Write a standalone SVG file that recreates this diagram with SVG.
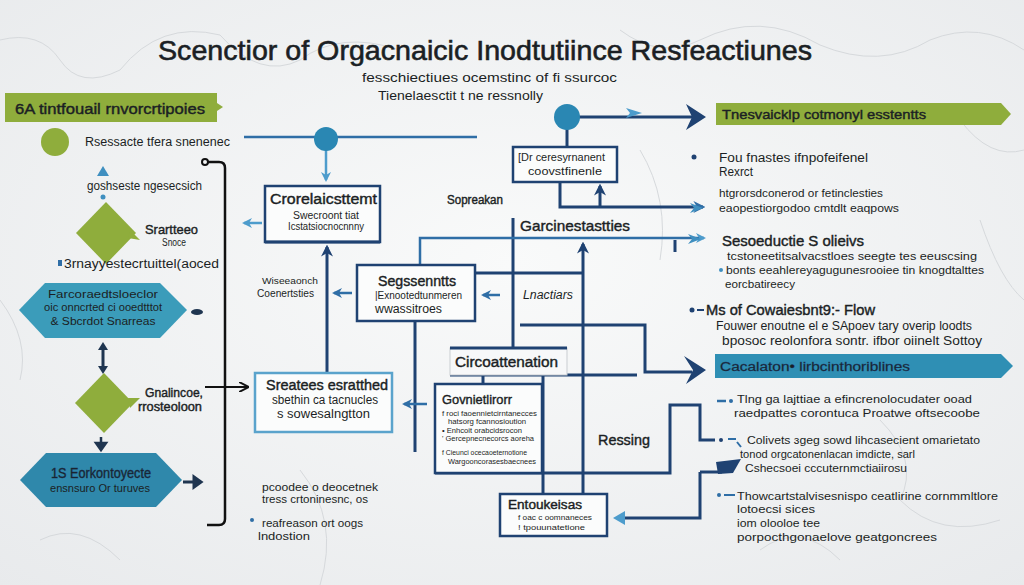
<svg xmlns="http://www.w3.org/2000/svg" width="1024" height="585" viewBox="0 0 1024 585">
<defs>
<radialGradient id="bg" cx="50%" cy="45%" r="75%"><stop offset="0" stop-color="#f9fafa"/><stop offset="1" stop-color="#e8eaec"/></radialGradient>
<marker id="an" viewBox="0 0 10 10" refX="8" refY="5" markerWidth="4" markerHeight="4" orient="auto-start-reverse"><path d="M0,0 L10,5 L0,10 L3,5z" fill="#1f4272"/></marker>
<marker id="ab" viewBox="0 0 10 10" refX="8" refY="5" markerWidth="4" markerHeight="4" orient="auto-start-reverse"><path d="M0,0 L10,5 L0,10 L3,5z" fill="#2f6ea6"/></marker>
<marker id="al" viewBox="0 0 10 10" refX="8" refY="5" markerWidth="4" markerHeight="4" orient="auto-start-reverse"><path d="M0,0 L10,5 L0,10 L3,5z" fill="#4d9ccc"/></marker>
<marker id="ak" viewBox="0 0 10 10" refX="8" refY="5" markerWidth="5" markerHeight="5" orient="auto"><path d="M0,0 L10,5 L0,10" fill="none" stroke="#111" stroke-width="2"/></marker>
</defs>
<style>
.t{font-family:"Liberation Sans",Arial,sans-serif;fill:#1b1f24}
.h{stroke:#1b1f24;stroke-width:0.4}
.nv{fill:none;stroke:#1f4272;stroke-width:3}
.mb{fill:none;stroke:#2f6ea6;stroke-width:2.5}
.lb{fill:none;stroke:#4d9ccc;stroke-width:2.5}
.box{fill:#fbfcfc;stroke:#1f4272;stroke-width:2.5}
.crack{fill:none;stroke:#d6d9dc;stroke-width:1}
.hd{fill:#1f4272}
</style>
<rect width="1024" height="585" fill="url(#bg)"/>
<g id="background-cracks">
<path class="crack" d="M0,40 Q40,30 60,60 T120,70 Q160,20 220,35 M220,35 Q260,80 300,60 Q340,30 400,50 M620,30 Q660,60 700,40 Q760,10 820,45 Q880,70 930,40 Q980,20 1024,50 M0,300 Q30,340 20,380 M960,120 Q990,160 1024,150 M880,420 Q920,460 900,500 Q940,540 1000,520 M300,470 Q340,520 320,585 M760,550 Q800,520 840,560 M40,540 Q80,520 120,560 M980,220 Q1000,280 1024,300 M640,150 Q670,200 660,260"/>
</g>
<g id="title">
<text class="t" x="158" y="60" font-size="28" textLength="654" lengthAdjust="spacingAndGlyphs" stroke="#1b1f24" stroke-width="0.6">Scenctior of  Orgacnaicic  Inodtutiince Resfeactiunes</text>
<text class="t" x="362" y="82" font-size="13" textLength="255" lengthAdjust="spacingAndGlyphs">fesschiectiues ocemstinc of fi ssurcoc</text>
<text class="t" x="378" y="100" font-size="13" textLength="165" lengthAdjust="spacingAndGlyphs">Tienelaesctit t ne ressnolly</text>
</g>
<g id="connectors">
<path d="M208,162 H219 Q225,162 225,168 V519 Q225,525 219,525 H207" fill="none" stroke="#111" stroke-width="2.5"/>
<circle cx="205" cy="162" r="3" fill="none" stroke="#111" stroke-width="2"/>
<path d="M205,387 H247" fill="none" stroke="#111" stroke-width="2" marker-end="url(#ak)"/>
<path class="mb" d="M244,137 H477"/>
<path class="lb" d="M326,150 V180" marker-end="url(#al)"/>
<path class="nv" d="M327,373 V247" marker-end="url(#an)"/>
<path class="lb" d="M262,223 H244" marker-end="url(#al)"/>
<path class="nv" d="M578,117 H692"/>
<polygon class="hd" points="686,104 706,117 686,130 692,117"/>
<polygon points="626,108 642,113 626,118 630,113" fill="#4d9ccc"/>
<path class="nv" d="M567,129 V147"/>
<path class="nv" d="M560,182 V207 H703" marker-end="url(#ab)"/>
<path class="nv" d="M600,207 V186" marker-end="url(#an)"/>
<path class="nv" d="M513,218 V348"/>
<path class="mb" d="M420,265 V238 H704" marker-end="url(#al)"/>
<path class="nv" d="M583,493 V244" marker-end="url(#an)"/>
<path class="nv" d="M475,273 H583"/>
<path class="nv" d="M675,240 V252" stroke-width="1.5"/>
<path class="mb" d="M500,295 H483" marker-end="url(#ab)"/>
<path class="mb" d="M352,293 H334" marker-end="url(#ab)"/>
<path class="nv" d="M415,321 V452"/>
<path class="mb" d="M427,404 H404" marker-end="url(#ab)"/>
<path class="nv" d="M520,325 H645 V372 H692"/>
<polygon class="hd" points="684,356 706,370 686,384 693,370"/>
<path class="nv" d="M450,375 H637"/>
<path class="nv" d="M483,375 V384"/>
<path class="nv" d="M543,375 V495"/>
<path class="nv" d="M435,473 H670 V405 H700 V440 H715"/>
<path class="nv" d="M700,472 V518 H622"/>
<polygon points="613,518 625,511 625,525" fill="#4d9ccc"/>
<path class="nv" d="M700,472 H722"/>
<polygon class="hd" points="716,462 741,459 733,473 718,474"/>
<path d="M103,166 L109,176 L97,176z" fill="#3f8fc0"/>
<circle cx="103" cy="197" r="2.5" fill="#3f8fc0"/>
<path d="M103,348 V368" stroke="#1f3550" stroke-width="3"/>
<path d="M98,350 L103,342 L108,350z M98,366 L103,374 L108,366z" fill="#1f3550"/>
<path d="M101,437 V444 M96,443 L101,450 L106,443z" stroke="#1f3550" stroke-width="2.5" fill="#1f3550"/>
<ellipse cx="197" cy="312" rx="6" ry="3" fill="#1f3550"/>
<path d="M183,482 H196 M194,477 L201,482 L194,487z" stroke="#1f3550" stroke-width="3" fill="#1f3550"/>
</g>
<g id="node-green-banner-left">
<polygon points="5,93 217,93 217,103 223,107 217,111 217,122 5,122" fill="#8fad3c"/>
<text class="t h" x="15" y="114" font-size="14" textLength="190" lengthAdjust="spacingAndGlyphs">6A  tintfouail rnvorcrtipoies</text>
</g>
<g id="node-circle-start">
<circle cx="55" cy="142" r="14" fill="#8fad3c"/>
<text class="t" x="85" y="146" font-size="12" textLength="145" lengthAdjust="spacingAndGlyphs">Rsessacte tfera snenenec</text>
</g>
<g id="node-text-goshseste">
<text class="t" x="87" y="190" font-size="12" textLength="115" lengthAdjust="spacingAndGlyphs">goshseste ngesecsich</text>
</g>
<g id="node-diamond-1">
<polygon points="106,202 136,233 106,264 76,233" fill="#8fad3c"/>
<polygon points="130,230 140,240 128,238" fill="#8fad3c"/>
<text class="t h" x="145" y="234" font-size="13" textLength="53" lengthAdjust="spacingAndGlyphs">Srartteeo</text>
<text class="t" x="162" y="246" font-size="10" textLength="24" lengthAdjust="spacingAndGlyphs">Snoce</text>
<rect x="58" y="260" width="4" height="6" fill="#2f6ea6"/>
<text class="t" x="64" y="268" font-size="12" textLength="155" lengthAdjust="spacingAndGlyphs">3rnayyestecrtuittel(aoced</text>
</g>
<g id="node-hexagon-1">
<polygon points="19,310 45,283 160,283 187,310 160,338 45,338" fill="#3b9cba"/>
<text class="t" x="103" y="298" font-size="10" text-anchor="middle" textLength="110" lengthAdjust="spacingAndGlyphs" fill="#183050">Farcoraedtsloeclor</text>
<text class="t" x="103" y="311" font-size="10" text-anchor="middle" textLength="118" lengthAdjust="spacingAndGlyphs" fill="#183050">oic onncrted ci ooedtttot</text>
<text class="t" x="103" y="325" font-size="10" text-anchor="middle" textLength="105" lengthAdjust="spacingAndGlyphs" fill="#183050">&amp; Sbcrdot Snarreas</text>
</g>
<g id="node-diamond-2">
<polygon points="104,373 133,403 104,433 75,403" fill="#8fad3c"/>
<polygon points="128,398 140,398 130,408" fill="#8fad3c"/>
<text class="t h" x="145" y="397" font-size="12" textLength="58" lengthAdjust="spacingAndGlyphs">Gnalincoe,</text>
<text class="t h" x="138" y="411" font-size="12" textLength="64" lengthAdjust="spacingAndGlyphs">rrosteoloon</text>
</g>
<g id="node-hexagon-2">
<polygon points="20,480 46,453 156,453 182,480 156,507 46,507" fill="#2f88ab"/>
<text class="t" x="101" y="478" font-size="14" text-anchor="middle" textLength="100" lengthAdjust="spacingAndGlyphs" fill="#183050" stroke="#183050" stroke-width="0.4">1S Eorkontoyecte</text>
<text class="t" x="100" y="492" font-size="10" text-anchor="middle" textLength="100" lengthAdjust="spacingAndGlyphs" fill="#183050">ensnsuro Or turuves</text>
</g>
<g id="node-circle-hub-1">
<circle cx="326" cy="139" r="12" fill="#2a87b3"/>
</g>
<g id="node-crorelaicsttemt">
<rect class="box" x="265" y="186" width="115" height="56"/>
<path class="nv" d="M265,242 H380"/>
<text class="t h" x="270" y="204" font-size="14" textLength="107" lengthAdjust="spacingAndGlyphs">Crorelaicsttemt</text>
<text class="t" x="293" y="219" font-size="10" textLength="66" lengthAdjust="spacingAndGlyphs">Swecroont tiat</text>
<text class="t" x="288" y="230" font-size="10" textLength="76" lengthAdjust="spacingAndGlyphs">Icstatsiocnocnnny</text>
</g>
<g id="node-sopreakan">
<text class="t h" x="447" y="204" font-size="12" textLength="56" lengthAdjust="spacingAndGlyphs">Sopreakan</text>
</g>
<g id="node-circle-hub-2">
<circle cx="567" cy="117" r="13" fill="#2a87b3"/>
</g>
<g id="node-dr-box">
<rect class="box" x="513" y="147" width="104" height="35"/>
<text class="t" x="518" y="161" font-size="10" textLength="87" lengthAdjust="spacingAndGlyphs">[Dr ceresyrnanent</text>
<text class="t" x="528" y="175" font-size="11" textLength="74" lengthAdjust="spacingAndGlyphs">coovstfinenle</text>
</g>
<g id="node-garcinestastties">
<text class="t h" x="520" y="231" font-size="15" textLength="110" lengthAdjust="spacingAndGlyphs">Garcinestastties</text>
</g>
<g id="node-wiseeaonch">
<text class="t" x="262" y="284" font-size="9" textLength="56" lengthAdjust="spacingAndGlyphs">Wiseeaonch</text>
<text class="t" x="257" y="297" font-size="10" textLength="57" lengthAdjust="spacingAndGlyphs">Coenertsties</text>
</g>
<g id="node-sagsesnts">
<rect class="box" x="357" y="265" width="118" height="56"/>
<text class="t h" x="378" y="286" font-size="14" textLength="78" lengthAdjust="spacingAndGlyphs">Segssenntts</text>
<text class="t" x="375" y="299" font-size="11" textLength="87" lengthAdjust="spacingAndGlyphs">|Exnootedtunmeren</text>
<text class="t" x="375" y="313" font-size="12" textLength="67" lengthAdjust="spacingAndGlyphs">wwassitroes</text>
</g>
<g id="node-lnactiars">
<text class="t" x="523" y="299" font-size="12" font-style="italic" textLength="50" lengthAdjust="spacingAndGlyphs">Lnactiars</text>
</g>
<g id="node-sreatees">
<rect x="255" y="373" width="137" height="59" fill="#fbfcfc" stroke="#5aa3cc" stroke-width="2.5"/>
<text class="t h" x="266" y="390" font-size="14" textLength="122" lengthAdjust="spacingAndGlyphs">Sreatees esratthed</text>
<text class="t" x="272" y="404" font-size="12" textLength="106" lengthAdjust="spacingAndGlyphs">sbethin ca tacnucles</text>
<text class="t" x="277" y="418" font-size="12" textLength="93" lengthAdjust="spacingAndGlyphs">s sowesalngtton</text>
</g>
<g id="node-circoattenation">
<rect x="450" y="348" width="117" height="27" fill="#f7f8f9" stroke="#c9cdd1" stroke-width="1"/>
<path class="nv" d="M450,348 H567" stroke-width="2.5"/>
<text class="t h" x="455" y="367" font-size="14" textLength="103" lengthAdjust="spacingAndGlyphs">Circoattenation</text>
</g>
<g id="node-govnietlirorr">
<rect class="box" x="435" y="384" width="107" height="89"/>
<text class="t h" x="442" y="404" font-size="13" textLength="70" lengthAdjust="spacingAndGlyphs">Govnietlirorr</text>
<text class="t" x="442" y="416" font-size="7" textLength="95" lengthAdjust="spacingAndGlyphs">f roci faoennietcirntanecces</text>
<text class="t" x="448" y="424" font-size="7" textLength="78" lengthAdjust="spacingAndGlyphs">hatsorg fcannosioution</text>
<text class="t" x="442" y="433" font-size="7" textLength="80" lengthAdjust="spacingAndGlyphs">• Enhcoit orabcidsrocon</text>
<text class="t" x="442" y="441" font-size="7" textLength="92" lengthAdjust="spacingAndGlyphs">' Gercepnecnecorcs aoreha</text>
<text class="t" x="442" y="455" font-size="7" textLength="85" lengthAdjust="spacingAndGlyphs">f Cieunci ocecaoeternotione</text>
<text class="t" x="448" y="464" font-size="7" textLength="88" lengthAdjust="spacingAndGlyphs">Wargooncorasesbaecnees</text>
</g>
<g id="node-ressing">
<text class="t h" x="598" y="445" font-size="14" textLength="52" lengthAdjust="spacingAndGlyphs">Ressing</text>
</g>
<g id="node-entoukeisas">
<rect class="box" x="500" y="494" width="107" height="42"/>
<text class="t h" x="508" y="509" font-size="12" textLength="74" lengthAdjust="spacingAndGlyphs">Entoukeisas</text>
<text class="t" x="518" y="520" font-size="8" textLength="74" lengthAdjust="spacingAndGlyphs">f oac c oomnaneces</text>
<text class="t" x="518" y="530" font-size="8" textLength="67" lengthAdjust="spacingAndGlyphs">! tpouunatetione</text>
</g>
<g id="node-pcoodee">
<text class="t" x="262" y="491" font-size="11" textLength="116" lengthAdjust="spacingAndGlyphs">pcoodee o deocetnek</text>
<text class="t" x="262" y="503" font-size="11" textLength="106" lengthAdjust="spacingAndGlyphs">tress crtoninesnc, os</text>
<circle cx="252" cy="520" r="2" fill="#2f6ea6"/>
<text class="t" x="262" y="527" font-size="11" textLength="101" lengthAdjust="spacingAndGlyphs">reafreason ort oogs</text>
<text class="t" x="258" y="540" font-size="11" textLength="52" lengthAdjust="spacingAndGlyphs">lndostion</text>
</g>
<g id="node-green-banner-right">
<polygon points="716,103 1001,103 1011,114 1001,125 716,125" fill="#8fad3c"/>
<text class="t h" x="722" y="119" font-size="13" textLength="204" lengthAdjust="spacingAndGlyphs">Tnesvaicklp  cotmonyl esstentts</text>
</g>
<g id="node-right-fou">
<circle cx="694" cy="157" r="2.5" fill="#1f4272"/>
<text class="t" x="719" y="162" font-size="12" textLength="149" lengthAdjust="spacingAndGlyphs">Fou fnastes ifnpofeifenel</text>
<text class="t" x="719" y="176" font-size="12" textLength="34" lengthAdjust="spacingAndGlyphs">Rexrct</text>
</g>
<g id="node-right-htgr">
<text class="t" x="719" y="197" font-size="11" textLength="164" lengthAdjust="spacingAndGlyphs">htgrorsdconerod or fetinclesties</text>
<polygon points="690,203 703,208 690,213 694,208" fill="#3f8fc0"/>
<text class="t" x="719" y="212" font-size="11" textLength="180" lengthAdjust="spacingAndGlyphs">eaopestiorgodoo cmtdlt eaqpows</text>
</g>
<g id="node-right-sesoeductie">
<polygon points="688,234 701,239 688,244 692,239" fill="#3f8fc0"/>
<text class="t h" x="722" y="246" font-size="14" textLength="142" lengthAdjust="spacingAndGlyphs">Sesoeductie S olieivs</text>
<text class="t" x="727" y="260" font-size="11" textLength="250" lengthAdjust="spacingAndGlyphs">tcstoneetitsalvacstloes seegte tes eeuscsing</text>
<circle cx="721" cy="270" r="2" fill="#3f8fc0"/>
<text class="t" x="726" y="274" font-size="11" textLength="258" lengthAdjust="spacingAndGlyphs">bonts eeahlereyagugunesrooiee tin knogdtalttes</text>
<text class="t" x="725" y="288" font-size="11" textLength="70" lengthAdjust="spacingAndGlyphs">eorcbatireecy</text>
</g>
<g id="node-right-flow">
<circle cx="692" cy="310" r="2.5" fill="#1f4272"/>
<path d="M697,310 H704" stroke="#1f4272" stroke-width="2"/>
<text class="t h" x="706" y="315" font-size="14" textLength="169" lengthAdjust="spacingAndGlyphs">Ms of Cowaiesbnt9:- Flow</text>
<text class="t" x="716" y="330" font-size="12" textLength="256" lengthAdjust="spacingAndGlyphs">Fouwer enoutne el e SApoev tary overip loodts</text>
<text class="t" x="722" y="345" font-size="12" textLength="260" lengthAdjust="spacingAndGlyphs">bposoc reolonfora sontr. ifbor oiinelt Sottoy</text>
</g>
<g id="node-blue-banner-right">
<polygon points="715,354 1001,354 1013,366 1001,378 715,378" fill="#2f8fb4"/>
<text class="t" x="720" y="371" font-size="13" textLength="190" lengthAdjust="spacingAndGlyphs" fill="#1a3a66" stroke="#1a3a66" stroke-width="0.3">Cacalaton• lirbcinthoriblines</text>
</g>
<g id="node-right-tlng">
<path d="M717,401 H726" stroke="#2f6ea6" stroke-width="2.5"/>
<circle cx="731" cy="401" r="2" fill="#2f6ea6"/>
<text class="t" x="737" y="403" font-size="11" textLength="235" lengthAdjust="spacingAndGlyphs">Tlng ga lajttiae a efincrenolocudater ooad</text>
<text class="t" x="734" y="417" font-size="11" textLength="246" lengthAdjust="spacingAndGlyphs">raedpattes corontuca Proatwe oftsecoobe</text>
</g>
<g id="node-right-colivets">
<circle cx="721" cy="440" r="2" fill="#1f4272"/>
<path d="M728,439 H736 M737,442 L741,447" stroke="#2f6ea6" stroke-width="2"/>
<text class="t" x="747" y="444" font-size="11" textLength="233" lengthAdjust="spacingAndGlyphs">Colivets ɜgeg sowd lihcasecient omarietato</text>
<text class="t" x="740" y="458" font-size="11" textLength="175" lengthAdjust="spacingAndGlyphs">tonod orgcatonenlacan imdicte,   sarl</text>
<text class="t" x="745" y="472" font-size="11" textLength="162" lengthAdjust="spacingAndGlyphs">Cshecsoei cccuternmctiaiirosu</text>
</g>
<g id="node-right-thow">
<circle cx="719" cy="495" r="2" fill="#2f6ea6"/>
<path d="M724,495 H735" stroke="#2f6ea6" stroke-width="2"/>
<text class="t" x="737" y="500" font-size="11" textLength="261" lengthAdjust="spacingAndGlyphs">Thowcartstalvisesnispo ceatlirine cornmmltlore</text>
<text class="t" x="737" y="513" font-size="11" textLength="78" lengthAdjust="spacingAndGlyphs">lotoecsi sices</text>
<text class="t" x="737" y="527" font-size="11" textLength="83" lengthAdjust="spacingAndGlyphs">iom olooloe tee</text>
<text class="t" x="737" y="541" font-size="11" textLength="200" lengthAdjust="spacingAndGlyphs">porpocthgonaelove geatgoncrees</text>
</g>
</svg>
